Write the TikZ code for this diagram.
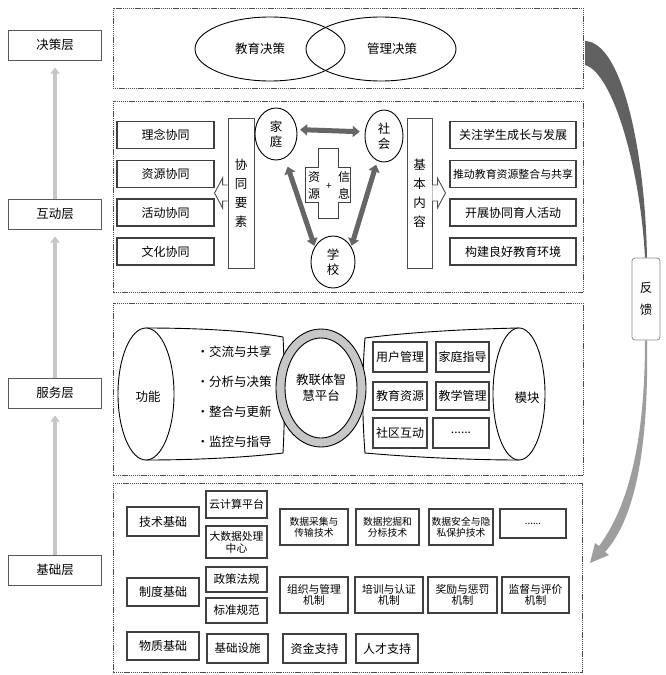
\documentclass[tikz,border=0pt]{standalone}
\usepackage{fontspec}
\setmainfont{Noto Sans CJK SC}
\usepackage{tikz}
\usetikzlibrary{calc,arrows.meta,shapes.geometric}

\begin{document}
\begin{tikzpicture}[x=1pt,y=-1pt,
  layer/.style={draw=black!65,line width=1pt,minimum width=93pt,minimum height=30pt,font=\fontsize{12.5}{14}\selectfont},
  zone/.style={draw=black!70,line width=0.8pt,dash pattern=on 1.2pt off 0.7pt},
  item/.style={draw=black!75,line width=1.1pt,inner sep=1pt,font=\fontsize{12}{14}\selectfont},
  small/.style={item,align=center,font=\fontsize{9.8}{10.8}\selectfont},
  vbox/.style={draw=black!70,line width=0.9pt,align=center,font=\fontsize{12.5}{19}\selectfont},
  circ/.style={draw,ellipse,line width=0.9pt,inner sep=0pt,align=center,font=\fontsize{12.5}{15}\selectfont},
  txt/.style={font=\fontsize{12.5}{16}\selectfont,align=center},
  uparrow/.style={draw=black!22,line width=4.5pt,-{Triangle[width=9pt,length=6pt]}},
  dbl/.style={draw=black!60,line width=5pt,{Triangle[width=11pt,length=7pt]}-{Triangle[width=11pt,length=7pt]}},
  hollow/.style={draw=black!70,line width=0.9pt,fill=white},
  ]
\fill[white] (0,0) rectangle (666,675);
\useasboundingbox (0,0) rectangle (666,675);

% 左侧层次
\node[layer] (lDec) at (55,45) {决策层};
\node[layer] (lInt) at (55,214) {互动层};
\node[layer] (lSrv) at (55,393) {服务层};
\node[layer] (lBas) at (55,570) {基础层};
\draw[uparrow,shorten >=7pt] (lInt.north) -- (lDec.south);
\draw[uparrow,shorten >=7pt] (lSrv.north) -- (lInt.south);
\draw[uparrow,shorten >=7pt] (lBas.north) -- (lSrv.south);

% 四个区域
\draw[zone] (113,8) rectangle (583,88);
\draw[zone] (113,101) rectangle (583,292);
\draw[zone] (113,303) rectangle (583,475);
\draw[zone] (113,483) rectangle (582,672);

% 决策层
\node[draw,ellipse,line width=0.9pt,minimum width=150pt,minimum height=64pt] (edu) at (270,49) {};
\node[draw,ellipse,line width=0.9pt,minimum width=150pt,minimum height=64pt] (mgt) at (381,49) {};
\node[txt] (tEdu) at (260,49) {教育决策};
\node[txt] (tMgt) at (392,49) {管理决策};

% 互动层
\node[item,minimum width=97pt,minimum height=27pt] (c1) at (165.5,135) {理念协同};
\node[item,minimum width=97pt,minimum height=27pt] (c2) at (165.5,174) {资源协同};
\node[item,minimum width=97pt,minimum height=27pt] (c3) at (165.5,212.5) {活动协同};
\node[item,minimum width=97pt,minimum height=27pt] (c4) at (165.5,251.5) {文化协同};
\node[vbox,minimum width=26pt,minimum height=150pt] (xtys) at (241,193) {协\\同\\要\\素};
\draw[hollow] ($(xtys.west)+(0,-8)$) -- ++(-5,0) -- ++(0,-7) -- ++(-8,15) -- ++(8,15) -- ++(0,-7) -- ++(5,0);

\node[circ,minimum width=42pt,minimum height=52pt] (fam) at (276,134) {家\\庭};
\node[circ,minimum width=38pt,minimum height=52pt] (soc) at (384,136) {社\\会};
\node[circ,minimum width=44pt,minimum height=52pt] (sch) at (333,262) {学\\校};
\draw[dbl,shorten <=3pt,shorten >=5pt] (fam.12) -- (soc.168);
\draw[dbl,shorten <=9pt,shorten >=1pt] (fam.-70) -- (sch.140);
\draw[dbl,shorten <=4pt,shorten >=1pt] (soc.-105) -- (sch.40);

\draw[line width=0.9pt,draw=black!75] (318,148) -- (338,148) -- (338,167) -- (350,167) -- (350,202) -- (338,202)
  -- (338,218) -- (318,218) -- (318,202) -- (305,202) -- (305,167) -- (318,167) -- cycle;
\node[font=\fontsize{12}{17}\selectfont,align=center] (zy) at (314,185) {资\\源};
\node[font=\fontsize{12}{17}\selectfont,align=center] (xx) at (344,185) {信\\息};
\node[font=\fontsize{10}{12}\selectfont] (plus) at (329,186) {+};

\node[vbox,minimum width=25pt,minimum height=150pt] (jbnr) at (419.5,193) {基\\本\\内\\容};
\draw[hollow] ($(jbnr.east)+(0,-8)$) -- ++(5,0) -- ++(0,-7) -- ++(8,15) -- ++(-8,15) -- ++(0,-7) -- ++(-5,0);
\node[item,minimum width=126pt,minimum height=27pt] (n1) at (513,135) {关注学生成长与发展};
\node[item,minimum width=126pt,minimum height=27pt,font=\fontsize{10.9}{13}\selectfont] (n2) at (513,174) {推动教育资源整合与共享};
\node[item,minimum width=126pt,minimum height=27pt] (n3) at (513,212.5) {开展协同育人活动};
\node[item,minimum width=126pt,minimum height=27pt] (n4) at (513,251.5) {构建良好教育环境};

% 服务层
\draw[line width=0.9pt,fill=white] (146,328) .. controls (200,328) and (250,331) .. (283,337)
  .. controls (285,375) and (285,415) .. (283,453) .. controls (250,457) and (200,460) .. (146,460);
\draw[line width=0.9pt,fill=white] (146,394) ellipse [x radius=28, y radius=66];
\node[txt] (gn) at (148,397) {功能};
\node[txt,anchor=west] (f1) at (193,352) {·交流与共享};
\node[txt,anchor=west] (f2) at (193,382) {·分析与决策};
\node[txt,anchor=west] (f3) at (193,412) {·整合与更新};
\node[txt,anchor=west] (f4) at (193,442) {·监控与指导};

\draw[line width=0.9pt,fill=white] (519,328) .. controls (470,329) and (410,332) .. (365,338)
  .. controls (362,375) and (362,415) .. (365,453) .. controls (410,457) and (470,460) .. (519,460);
\draw[line width=0.9pt,fill=white] (519,394) ellipse [x radius=26, y radius=66];
\node[txt] (mk) at (527,398) {模块};

\draw[line width=0.9pt,fill=black!22] (321,388) ellipse [x radius=45, y radius=59];
\draw[line width=0.9pt,fill=white] (321,388) ellipse [x radius=36, y radius=50];
\node[txt] (hub) at (321,388) {教联体智\\慧平台};

\node[item,minimum width=54pt,minimum height=30pt] (m1) at (400,357) {用户管理};
\node[item,minimum width=53pt,minimum height=30pt] (m2) at (462.5,357) {家庭指导};
\node[item,minimum width=54pt,minimum height=28pt] (m3) at (400,396) {教育资源};
\node[item,minimum width=53pt,minimum height=28pt] (m4) at (462.5,396) {教学管理};
\node[item,minimum width=54pt,minimum height=30pt] (m5) at (400,433) {社区互动};
\node[item,minimum width=56pt,minimum height=30pt] (m6) at (461,433) {......};

% 基础层
\node[item,minimum width=72pt,minimum height=29pt] (b1) at (163,521.5) {技术基础};
\node[item,minimum width=72pt,minimum height=28pt] (b2) at (163,592) {制度基础};
\node[item,minimum width=72pt,minimum height=28pt] (b3) at (163,646) {物质基础};
\node[item,minimum width=61pt,minimum height=27pt,font=\fontsize{11}{12}\selectfont] (t1) at (236.5,504.5) {云计算平台};
\node[item,minimum width=61pt,minimum height=32pt,align=center,font=\fontsize{10.8}{12}\selectfont] (t2) at (236.5,542) {大数据处理\\中心};
\node[item,minimum width=61pt,minimum height=25pt,font=\fontsize{11.5}{12}\selectfont] (z1) at (236.5,579.5) {政策法规};
\node[item,minimum width=61pt,minimum height=25pt,font=\fontsize{11.5}{12}\selectfont] (z2) at (236.5,610.5) {标准规范};
\node[item,minimum width=61pt,minimum height=29pt,font=\fontsize{11.5}{12}\selectfont] (w1) at (237.5,648.5) {基础设施};
\node[small,minimum width=68pt,minimum height=36pt] (t3) at (314,527) {数据采集与\\传输技术};
\node[small,minimum width=63pt,minimum height=36pt] (t4) at (387.5,527) {数据挖掘和\\分标技术};
\node[small,minimum width=64pt,minimum height=36pt] (t5) at (461,527) {数据安全与隐\\私保护技术};
\node[small,minimum width=66pt,minimum height=29pt] (t6) at (533,523.5) {......};
\node[small,minimum width=68pt,minimum height=36pt,font=\fontsize{10.8}{11.5}\selectfont] (z3) at (314,595) {组织与管理\\机制};
\node[small,minimum width=68pt,minimum height=36pt,font=\fontsize{10.8}{11.5}\selectfont] (z4) at (389,595) {培训与认证\\机制};
\node[small,minimum width=69pt,minimum height=36pt,font=\fontsize{10.8}{11.5}\selectfont] (z5) at (462.5,595) {奖励与惩罚\\机制};
\node[small,minimum width=67pt,minimum height=36pt,font=\fontsize{10.8}{11.5}\selectfont] (z6) at (535.5,595) {监督与评价\\机制};
\node[item,minimum width=63pt,minimum height=29pt] (w2) at (314.5,648.5) {资金支持};
\node[item,minimum width=62pt,minimum height=29pt] (w3) at (387,648.5) {人才支持};

% 反馈
\node[draw=black!45,rounded corners=3pt,fill=white,line width=0.8pt,minimum width=28pt,minimum height=82pt,
  align=center,font=\fontsize{12.5}{22}\selectfont] (fk) at (646,299) {反\\馈};
\fill[black!62] (585,41) .. controls (622,42) and (645,150) .. ($(fk.north)+(1,0)$)
  -- ($(fk.north)+(-1,0)$) .. controls (640,165) and (612,72) .. (585,65) -- cycle;
\fill[black!38] ($(fk.south)+(-1,0)$) .. controls (645,448) and (626,510) .. (599,546) -- (595,543) -- (590,563)
  -- (609,555) -- (605,552) .. controls (634,520) and (649,452) .. ($(fk.south)+(1,0)$) -- cycle;
\end{tikzpicture}
\end{document}
